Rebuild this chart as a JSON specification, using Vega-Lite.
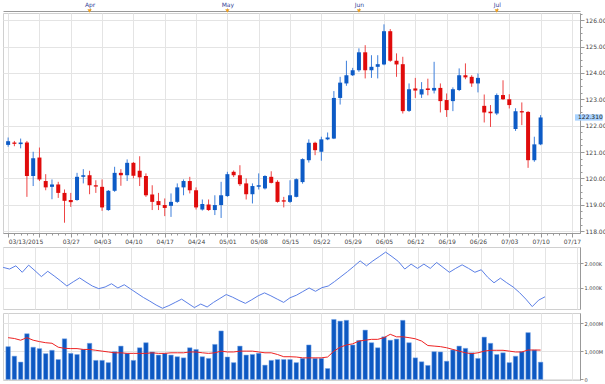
{
  "$schema": "https://vega.github.io/schema/vega-lite/v6.json",
  "padding": 0,
  "background": "white",
  "config": {
    "view": {"stroke": "#d0d0d0"},
    "axis": {"labelFont": "DejaVu Sans", "labelFontSize": 6, "labelColor": "#444", "gridColor": "#e4e4e4", "gridWidth": 1, "domainColor": "#999", "tickColor": "#999", "title": null},
    "concat": {"spacing": 1}
  },
  "datasets": {
    "d": [
      {"i":0,"date":"2015-03-13","o":121.27,"h":121.55,"l":121.20,"c":121.41,"v":1170,"ma":1490,"dsi":1828},
      {"i":1,"date":"2015-03-16","o":121.36,"h":121.42,"l":121.22,"c":121.31,"v":830,"ma":1460,"dsi":1760},
      {"i":2,"date":"2015-03-17","o":121.30,"h":121.51,"l":121.14,"c":121.36,"v":620,"ma":1400,"dsi":1892},
      {"i":3,"date":"2015-03-18","o":121.36,"h":121.42,"l":119.30,"c":120.09,"v":1630,"ma":1490,"dsi":1628},
      {"i":4,"date":"2015-03-19","o":120.09,"h":121.01,"l":119.71,"c":120.76,"v":1150,"ma":1400,"dsi":1920},
      {"i":5,"date":"2015-03-20","o":120.79,"h":121.17,"l":119.90,"c":119.96,"v":1100,"ma":1350,"dsi":1692},
      {"i":6,"date":"2015-03-23","o":119.90,"h":120.16,"l":119.55,"c":119.66,"v":920,"ma":1310,"dsi":1452},
      {"i":7,"date":"2015-03-24","o":119.68,"h":119.96,"l":119.21,"c":119.77,"v":1040,"ma":1290,"dsi":1668},
      {"i":8,"date":"2015-03-25","o":119.77,"h":119.87,"l":119.26,"c":119.45,"v":710,"ma":1150,"dsi":1480},
      {"i":9,"date":"2015-03-26","o":119.45,"h":119.58,"l":118.32,"c":119.15,"v":1450,"ma":1110,"dsi":1280},
      {"i":10,"date":"2015-03-27","o":119.18,"h":119.45,"l":118.92,"c":119.10,"v":930,"ma":1100,"dsi":1068},
      {"i":11,"date":"2015-03-30","o":119.18,"h":120.21,"l":119.15,"c":120.06,"v":890,"ma":1100,"dsi":1240},
      {"i":12,"date":"2015-03-31","o":120.06,"h":120.35,"l":119.81,"c":120.12,"v":1070,"ma":1070,"dsi":1400},
      {"i":13,"date":"2015-04-01","o":120.12,"h":120.29,"l":119.40,"c":119.74,"v":1290,"ma":1070,"dsi":1228},
      {"i":14,"date":"2015-04-02","o":119.74,"h":119.93,"l":119.45,"c":119.69,"v":680,"ma":1040,"dsi":1068},
      {"i":15,"date":"2015-04-03","o":119.68,"h":119.96,"l":118.77,"c":118.90,"v":680,"ma":1010,"dsi":960},
      {"i":16,"date":"2015-04-06","o":118.80,"h":119.56,"l":118.77,"c":119.53,"v":600,"ma":980,"dsi":1028},
      {"i":17,"date":"2015-04-07","o":119.53,"h":120.44,"l":119.49,"c":120.21,"v":990,"ma":950,"dsi":1160},
      {"i":18,"date":"2015-04-08","o":120.21,"h":120.35,"l":119.72,"c":120.12,"v":1190,"ma":950,"dsi":988},
      {"i":19,"date":"2015-04-09","o":120.12,"h":120.72,"l":119.90,"c":120.59,"v":930,"ma":930,"dsi":1120},
      {"i":20,"date":"2015-04-10","o":120.59,"h":120.62,"l":120.00,"c":120.10,"v":680,"ma":930,"dsi":948},
      {"i":21,"date":"2015-04-13","o":120.29,"h":120.84,"l":119.71,"c":120.04,"v":1130,"ma":930,"dsi":772},
      {"i":22,"date":"2015-04-14","o":120.09,"h":120.19,"l":119.30,"c":119.36,"v":1310,"ma":930,"dsi":600},
      {"i":23,"date":"2015-04-15","o":119.39,"h":119.74,"l":118.80,"c":119.11,"v":980,"ma":950,"dsi":452},
      {"i":24,"date":"2015-04-16","o":119.14,"h":119.45,"l":118.80,"c":118.99,"v":870,"ma":930,"dsi":292},
      {"i":25,"date":"2015-04-17","o":118.99,"h":119.24,"l":118.57,"c":118.88,"v":930,"ma":930,"dsi":160},
      {"i":26,"date":"2015-04-20","o":118.96,"h":119.43,"l":118.54,"c":119.11,"v":870,"ma":950,"dsi":268},
      {"i":27,"date":"2015-04-21","o":119.11,"h":119.81,"l":119.07,"c":119.66,"v":810,"ma":950,"dsi":400},
      {"i":28,"date":"2015-04-22","o":119.66,"h":119.96,"l":119.36,"c":119.90,"v":770,"ma":950,"dsi":532},
      {"i":29,"date":"2015-04-23","o":119.90,"h":120.06,"l":119.43,"c":119.55,"v":1130,"ma":980,"dsi":360},
      {"i":30,"date":"2015-04-24","o":119.55,"h":119.66,"l":118.82,"c":118.90,"v":1070,"ma":980,"dsi":188},
      {"i":31,"date":"2015-04-27","o":118.82,"h":119.20,"l":118.78,"c":119.03,"v":810,"ma":950,"dsi":332},
      {"i":32,"date":"2015-04-28","o":119.01,"h":119.20,"l":118.77,"c":118.80,"v":750,"ma":930,"dsi":212},
      {"i":33,"date":"2015-04-29","o":118.80,"h":119.36,"l":118.61,"c":118.99,"v":1250,"ma":950,"dsi":400},
      {"i":34,"date":"2015-04-30","o":118.99,"h":119.87,"l":118.50,"c":119.36,"v":1730,"ma":1010,"dsi":560},
      {"i":35,"date":"2015-05-01","o":119.33,"h":120.25,"l":119.30,"c":120.16,"v":800,"ma":980,"dsi":720},
      {"i":36,"date":"2015-05-04","o":120.25,"h":120.30,"l":120.05,"c":120.12,"v":600,"ma":980,"dsi":612},
      {"i":37,"date":"2015-05-05","o":120.12,"h":120.50,"l":119.71,"c":119.78,"v":1190,"ma":1010,"dsi":480},
      {"i":38,"date":"2015-05-06","o":119.81,"h":120.00,"l":119.20,"c":119.40,"v":870,"ma":1010,"dsi":360},
      {"i":39,"date":"2015-05-07","o":119.40,"h":119.81,"l":119.05,"c":119.71,"v":890,"ma":1010,"dsi":508},
      {"i":40,"date":"2015-05-08","o":119.68,"h":120.19,"l":119.58,"c":119.74,"v":930,"ma":980,"dsi":668},
      {"i":41,"date":"2015-05-11","o":119.62,"h":120.12,"l":119.58,"c":120.09,"v":510,"ma":950,"dsi":788},
      {"i":42,"date":"2015-05-12","o":120.06,"h":120.27,"l":119.81,"c":119.83,"v":680,"ma":950,"dsi":668},
      {"i":43,"date":"2015-05-13","o":119.87,"h":119.93,"l":119.08,"c":119.11,"v":710,"ma":890,"dsi":532},
      {"i":44,"date":"2015-05-14","o":119.17,"h":119.30,"l":118.90,"c":119.12,"v":710,"ma":810,"dsi":400},
      {"i":45,"date":"2015-05-15","o":119.11,"h":119.93,"l":119.07,"c":119.36,"v":710,"ma":810,"dsi":588},
      {"i":46,"date":"2015-05-18","o":119.30,"h":120.00,"l":119.28,"c":119.97,"v":600,"ma":800,"dsi":692},
      {"i":47,"date":"2015-05-19","o":119.86,"h":120.76,"l":119.80,"c":120.73,"v":750,"ma":770,"dsi":840},
      {"i":48,"date":"2015-05-20","o":120.69,"h":121.48,"l":120.60,"c":121.35,"v":1230,"ma":770,"dsi":988},
      {"i":49,"date":"2015-05-21","o":121.35,"h":121.39,"l":120.88,"c":121.07,"v":750,"ma":770,"dsi":852},
      {"i":50,"date":"2015-05-22","o":121.01,"h":121.58,"l":120.67,"c":121.48,"v":750,"ma":770,"dsi":1000},
      {"i":51,"date":"2015-05-25","o":121.48,"h":121.74,"l":121.45,"c":121.55,"v":390,"ma":800,"dsi":1068},
      {"i":52,"date":"2015-05-26","o":121.51,"h":123.31,"l":121.49,"c":123.05,"v":2140,"ma":1010,"dsi":1252},
      {"i":53,"date":"2015-05-27","o":123.05,"h":123.85,"l":122.80,"c":123.63,"v":2080,"ma":1150,"dsi":1452},
      {"i":54,"date":"2015-05-28","o":123.60,"h":124.46,"l":123.51,"c":123.91,"v":2110,"ma":1230,"dsi":1652},
      {"i":55,"date":"2015-05-29","o":123.91,"h":124.19,"l":123.88,"c":124.10,"v":1230,"ma":1270,"dsi":1868},
      {"i":56,"date":"2015-06-01","o":124.10,"h":124.93,"l":124.04,"c":124.78,"v":1390,"ma":1370,"dsi":2092},
      {"i":57,"date":"2015-06-02","o":124.78,"h":125.05,"l":123.79,"c":124.10,"v":1760,"ma":1400,"dsi":1892},
      {"i":58,"date":"2015-06-03","o":124.10,"h":124.67,"l":123.81,"c":124.23,"v":1310,"ma":1430,"dsi":2092},
      {"i":59,"date":"2015-06-04","o":124.23,"h":124.67,"l":123.79,"c":124.33,"v":1130,"ma":1430,"dsi":2268},
      {"i":60,"date":"2015-06-05","o":124.32,"h":125.84,"l":124.29,"c":125.58,"v":1520,"ma":1490,"dsi":2452},
      {"i":61,"date":"2015-06-08","o":125.58,"h":125.66,"l":124.42,"c":124.46,"v":1400,"ma":1610,"dsi":2268},
      {"i":62,"date":"2015-06-09","o":124.46,"h":124.74,"l":123.85,"c":124.32,"v":1440,"ma":1520,"dsi":2068},
      {"i":63,"date":"2015-06-10","o":124.33,"h":124.61,"l":122.46,"c":122.55,"v":2110,"ma":1520,"dsi":1760},
      {"i":64,"date":"2015-06-11","o":122.56,"h":123.60,"l":122.52,"c":123.38,"v":1310,"ma":1490,"dsi":1960},
      {"i":65,"date":"2015-06-12","o":123.41,"h":123.81,"l":123.05,"c":123.33,"v":770,"ma":1450,"dsi":1788},
      {"i":66,"date":"2015-06-15","o":123.18,"h":123.65,"l":123.05,"c":123.38,"v":630,"ma":1370,"dsi":1960},
      {"i":67,"date":"2015-06-16","o":123.41,"h":123.78,"l":123.15,"c":123.35,"v":500,"ma":1210,"dsi":1788},
      {"i":68,"date":"2015-06-17","o":123.33,"h":124.42,"l":123.22,"c":123.43,"v":990,"ma":1190,"dsi":2028},
      {"i":69,"date":"2015-06-18","o":123.43,"h":123.60,"l":122.50,"c":122.93,"v":980,"ma":1170,"dsi":1828},
      {"i":70,"date":"2015-06-19","o":122.97,"h":123.22,"l":122.33,"c":122.59,"v":650,"ma":1130,"dsi":1628},
      {"i":71,"date":"2015-06-22","o":122.93,"h":123.45,"l":122.55,"c":123.38,"v":1050,"ma":1070,"dsi":1788},
      {"i":72,"date":"2015-06-23","o":123.35,"h":124.17,"l":123.31,"c":123.91,"v":1190,"ma":1010,"dsi":1932},
      {"i":73,"date":"2015-06-24","o":123.91,"h":124.36,"l":123.76,"c":123.83,"v":1110,"ma":950,"dsi":1788},
      {"i":74,"date":"2015-06-25","o":123.85,"h":123.91,"l":123.47,"c":123.60,"v":950,"ma":920,"dsi":1628},
      {"i":75,"date":"2015-06-26","o":123.60,"h":123.98,"l":123.26,"c":123.81,"v":750,"ma":950,"dsi":1732},
      {"i":76,"date":"2015-06-29","o":122.75,"h":123.18,"l":122.12,"c":122.50,"v":1510,"ma":1010,"dsi":1428},
      {"i":77,"date":"2015-06-30","o":122.53,"h":122.78,"l":121.95,"c":122.47,"v":1290,"ma":1040,"dsi":1200},
      {"i":78,"date":"2015-07-01","o":122.46,"h":123.22,"l":122.40,"c":123.16,"v":890,"ma":1040,"dsi":1388},
      {"i":79,"date":"2015-07-02","o":123.16,"h":123.72,"l":122.97,"c":123.00,"v":950,"ma":1040,"dsi":1200},
      {"i":80,"date":"2015-07-03","o":123.00,"h":123.19,"l":122.65,"c":122.78,"v":600,"ma":1010,"dsi":1028},
      {"i":81,"date":"2015-07-06","o":121.87,"h":122.66,"l":121.80,"c":122.55,"v":830,"ma":980,"dsi":800},
      {"i":82,"date":"2015-07-07","o":122.55,"h":122.88,"l":122.02,"c":122.50,"v":990,"ma":980,"dsi":532},
      {"i":83,"date":"2015-07-08","o":122.52,"h":122.55,"l":120.40,"c":120.69,"v":1670,"ma":1050,"dsi":228},
      {"i":84,"date":"2015-07-09","o":120.69,"h":121.58,"l":120.63,"c":121.29,"v":1050,"ma":1050,"dsi":492},
      {"i":85,"date":"2015-07-10","o":121.29,"h":122.40,"l":121.26,"c":122.31,"v":617,"ma":1048,"dsi":628}
    ],
    "months": [
      {"i":13,"m":"Apr"},{"i":35,"m":"May"},{"i":56,"m":"Jun"},{"i":78,"m":"Jul"}
    ]
  },
  "vconcat": [
    {
      "width": 577,
      "height": 220,
      "layer": [
        {
          "data": {"name": "d"},
          "mark": {"type": "rule", "strokeWidth": 1},
          "encoding": {
            "x": {"field": "i", "type": "quantitative",
              "scale": {"domain": [-0.02, 90.49], "nice": false, "zero": false},
              "axis": {"orient": "bottom", "values": [0,1,2,3,4,5,6,7,8,9,10,11,12,13,14,15,16,17,18,19,20,21,22,23,24,25,26,27,28,29,30,31,32,33,34,35,36,37,38,39,40,41,42,43,44,45,46,47,48,49,50,51,52,53,54,55,56,57,58,59,60,61,62,63,64,65,66,67,68,69,70,71,72,73,74,75,76,77,78,79,80,81,82,83,84,85,86,87,88,89,90],
                "grid": true,
                "gridOpacity": {"condition": {"test": "datum.value % 5 === 0", "value": 1}, "value": 0},
                "tickSize": {"condition": {"test": "datum.value % 5 === 0", "value": 4}, "value": 2},
                "labelExpr": "datum.value % 5 === 0 ? ['03/13/2015','','03/27','04/03','04/10','04/17','04/24','05/01','05/08','05/15','05/22','05/29','06/05','06/12','06/19','06/26','07/03','07/10','07/17'][datum.value/5] : ''",
                "labelOverlap": false,
                "labelAlign": {"condition": {"test": "datum.value === 0", "value": "left"}, "value": "center"},
                "labelPadding": 1}},
            "y": {"field": "l", "type": "quantitative",
              "scale": {"domain": [117.93, 126.27], "nice": false, "zero": false},
              "axis": {"orient": "right", "title": null,
                "values": [118,118.25,118.5,118.75,119,119.25,119.5,119.75,120,120.25,120.5,120.75,121,121.25,121.5,121.75,122,122.25,122.5,122.75,123,123.25,123.5,123.75,124,124.25,124.5,124.75,125,125.25,125.5,125.75,126,126.25],
                "grid": true,
                "gridOpacity": {"condition": {"test": "datum.value % 1 === 0", "value": 1}, "value": 0},
                "tickSize": {"condition": {"test": "datum.value % 1 === 0", "value": 4}, "value": 2},
                "labelExpr": "datum.value % 1 === 0 ? format(datum.value, '.2f') : ''",
                "labelOverlap": false, "labelPadding": 1}},
            "y2": {"field": "h"},
            "color": {"condition": {"test": "datum.c >= datum.o", "value": "#3d7fdb"}, "value": "#ee4444"}
          }
        },
        {
          "data": {"name": "d"},
          "mark": {"type": "bar", "size": 4},
          "encoding": {
            "x": {"field": "i", "type": "quantitative", "axis": null},
            "y": {"field": "o", "type": "quantitative", "axis": null},
            "y2": {"field": "c"},
            "color": {"condition": {"test": "datum.c >= datum.o", "value": "#0d5bc6"}, "value": "#e00b0b"}
          }
        },
        {
          "data": {"name": "months"},
          "mark": {"type": "point", "shape": "triangle-down", "filled": true, "size": 18, "color": "#f0a020", "opacity": 1, "yOffset": -2},
          "encoding": {
            "x": {"field": "i", "type": "quantitative",
              "axis": {"orient": "top", "values": [13,35,56,78], "labelExpr": "['Apr','May','Jun','Jul'][indexof([13,35,56,78], datum.value)]", "grid": false, "tickSize": 3, "labelColor": "#334499", "labelPadding": 1, "offset": 2}},
            "y": {"datum": 126.27, "type": "quantitative", "axis": null}
          }
        },
        {
          "data": {"values": [{"p": 122.31}]},
          "mark": {"type": "rect", "color": "#a9d3ff"},
          "encoding": {
            "x": {"datum": 90.49, "type": "quantitative", "axis": null},
            "x2": {"datum": 94.9},
            "y": {"datum": 122.43, "type": "quantitative", "axis": null},
            "y2": {"datum": 122.19}
          }
        },
        {
          "data": {"values": [{"p": 122.31}]},
          "mark": {"type": "text", "text": "122.310", "align": "left", "baseline": "middle", "dx": 3, "fontSize": 6, "font": "DejaVu Sans", "color": "#222"},
          "encoding": {
            "x": {"datum": 90.49, "type": "quantitative", "axis": null},
            "y": {"field": "p", "type": "quantitative", "axis": null}
          }
        }
      ],
      "resolve": {"axis": {"x": "independent", "y": "independent"}}
    },
    {
      "width": 577,
      "height": 62,
      "layer": [
        {
          "data": {"name": "d"},
          "mark": {"type": "line", "color": "#5b7fe6", "strokeWidth": 1},
          "encoding": {
            "x": {"field": "i", "type": "quantitative",
              "scale": {"domain": [-0.02, 90.49], "nice": false, "zero": false},
              "axis": {"values": [0,5,10,15,20,25,30,35,40,45,50,55,60,65,70,75,80,85,90], "labels": false, "ticks": false, "domain": false, "grid": true}},
            "y": {"field": "dsi", "type": "quantitative",
              "scale": {"domain": [130, 2660], "nice": false, "zero": false},
              "axis": {"orient": "right", "values": [1000, 2000], "labelExpr": "format(datum.value/1000, '.3f') + 'K'", "grid": true, "tickSize": 3, "labelPadding": 1, "labelFontSize": 5}}
          }
        },
        {
          "mark": {"type": "text", "text": "DSI(USD/JPY): 1.371,889", "align": "left", "baseline": "top", "dx": 4, "dy": 2, "fontSize": 6, "font": "DejaVu Sans", "color": "#3355cc"},
          "encoding": {
            "x": {"datum": -0.02, "type": "quantitative", "axis": null},
            "y": {"datum": 2660, "type": "quantitative", "axis": null}
          }
        }
      ],
      "resolve": {"axis": {"x": "independent", "y": "independent"}}
    },
    {
      "width": 577,
      "height": 67,
      "layer": [
        {
          "data": {"name": "d"},
          "mark": {"type": "bar", "size": 4.5, "color": "#0d58c2", "stroke": "#7aa8e8", "strokeWidth": 0.5, "orient": "vertical"},
          "encoding": {
            "x": {"field": "i", "type": "quantitative",
              "scale": {"domain": [-0.02, 90.49], "nice": false, "zero": false},
              "axis": {"values": [0,5,10,15,20,25,30,35,40,45,50,55,60,65,70,75,80,85,90], "labels": false, "ticks": false, "domain": false, "grid": true}},
            "y": {"field": "v", "type": "quantitative",
              "scale": {"domain": [-20, 2370], "nice": false, "zero": false},
              "axis": {"orient": "right", "values": [0, 1000, 2000], "labelExpr": "datum.value === 0 ? '0' : format(datum.value, ',') + 'M'", "grid": true, "tickSize": 3, "labelPadding": 1, "labelFontSize": 5}}
          }
        },
        {
          "data": {"name": "d"},
          "mark": {"type": "line", "color": "#ee2222", "strokeWidth": 1},
          "encoding": {
            "x": {"field": "i", "type": "quantitative", "axis": null},
            "y": {"field": "ma", "type": "quantitative", "axis": null}
          }
        },
        {
          "mark": {"type": "text", "text": "Real Volume(USD/JPY): 616,710,000", "align": "left", "baseline": "top", "dx": 4, "dy": 2, "fontSize": 6, "font": "DejaVu Sans", "color": "#3355cc"},
          "encoding": {
            "x": {"datum": -0.02, "type": "quantitative", "axis": null},
            "y": {"datum": 2370, "type": "quantitative", "axis": null}
          }
        },
        {
          "mark": {"type": "text", "text": "MVA(Real Volume,20): 1,048,477,800", "align": "left", "baseline": "top", "dx": 4, "dy": 8, "fontSize": 6, "font": "DejaVu Sans", "color": "#ee2222"},
          "encoding": {
            "x": {"datum": -0.02, "type": "quantitative", "axis": null},
            "y": {"datum": 2370, "type": "quantitative", "axis": null}
          }
        },
        {
          "mark": {"type": "text", "text": "Prices by Metaquotes © 2015", "align": "right", "baseline": "bottom", "dx": -2, "dy": 0, "fontSize": 5, "font": "DejaVu Sans", "color": "#555"},
          "encoding": {
            "x": {"datum": 90.49, "type": "quantitative", "axis": null},
            "y": {"datum": -20, "type": "quantitative", "axis": null}
          }
        }
      ],
      "resolve": {"axis": {"x": "independent", "y": "independent"}}
    }
  ]
}
